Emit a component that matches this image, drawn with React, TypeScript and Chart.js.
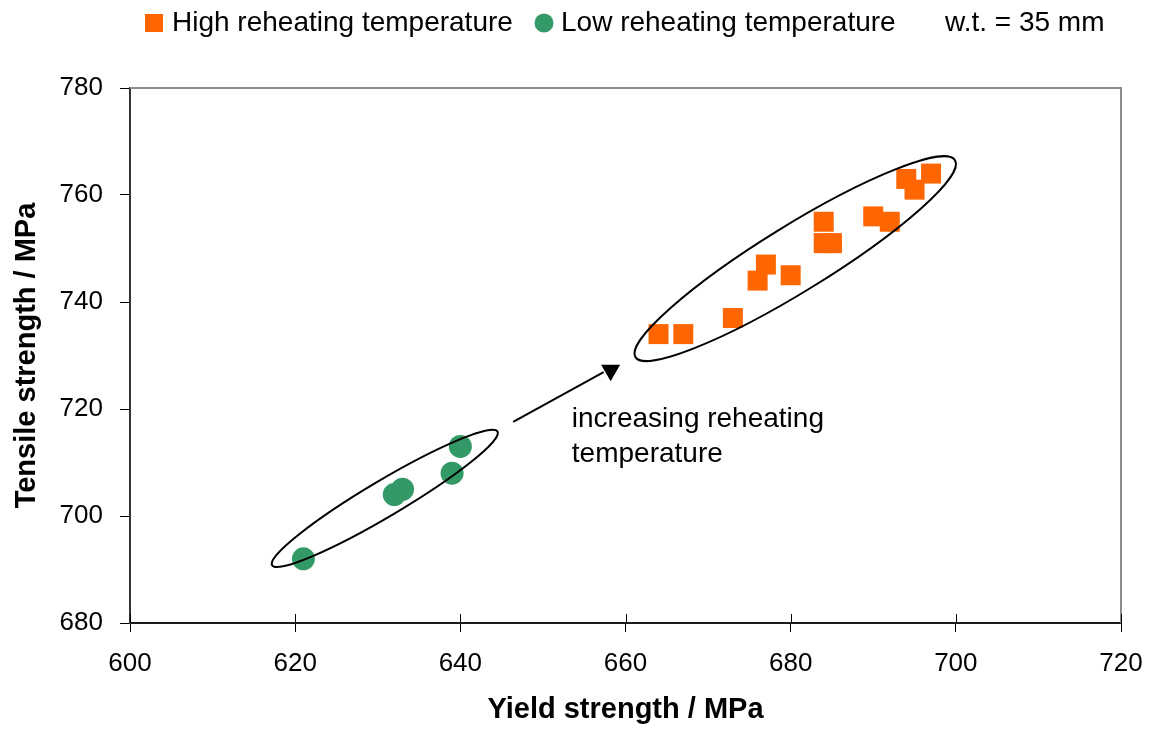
import React, { useEffect, useRef } from "react";
import { Chart, registerables } from "chart.js";

Chart.register(...registerables);

// ---- data ----
const highYield = [664, 667, 673, 676, 677, 680, 684, 684, 685, 690, 692, 694, 695, 697];
const highTensile = [734, 734, 737, 744, 747, 745, 755, 751, 751, 756, 755, 763, 761, 764];
const lowYield = [621, 632, 633, 639, 640];
const lowTensile = [692, 704, 705, 708, 713];
const xTicks = [600, 620, 640, 660, 680, 700, 720];
const yTicks = [680, 700, 720, 740, 760, 780];
const seriesLabels = ["High reheating temperature", "Low reheating temperature"];
const noteText = "w.t. = 35 mm";
const xTitle = "Yield strength / MPa";
const yTitle = "Tensile strength / MPa";
const annotationLines = ["increasing reheating", "temperature"];

// annotation anchors (data units)
const highGroupTips = [[661.2, 729.7], [699.9, 766.5]];
const lowGroupTips = [[617.2, 690.8], [644.5, 715.8]];
const arrowFrom = [646.4, 717.6];
const arrowTip = [658.2, 725.2];
const annotationAnchor = [653.5, 716.6];

const FONT = "'Liberation Sans', Arial, Helvetica, sans-serif";
const ORANGE = "#FF6600";
const GREEN = "#339966";

const decorPlugin = {
  id: "decor",
  afterDraw(chart: any) {
    const { ctx, chartArea, scales } = chart;
    const xs = scales.x;
    const ys = scales.y;
    const px = (v: number) => xs.getPixelForValue(v);
    const py = (v: number) => ys.getPixelForValue(v);
    ctx.save();

    // top & right frame
    ctx.strokeStyle = "#8c8c8c";
    ctx.lineWidth = 2;
    ctx.beginPath();
    ctx.moveTo(chartArea.left, chartArea.top);
    ctx.lineTo(chartArea.right, chartArea.top);
    ctx.lineTo(chartArea.right, chartArea.bottom);
    ctx.stroke();

    // inside part of x ticks
    ctx.strokeStyle = "#000";
    ctx.lineWidth = 1;
    xTicks.forEach((v) => {
      const x = Math.round(px(v)) + 0.5;
      ctx.beginPath();
      ctx.moveTo(x, chartArea.bottom);
      ctx.lineTo(x, chartArea.bottom - 9);
      ctx.stroke();
    });

    // ellipses
    const drawEllipse = (tips: number[][], halfWidth: number) => {
      const x1 = px(tips[0][0]), y1 = py(tips[0][1]);
      const x2 = px(tips[1][0]), y2 = py(tips[1][1]);
      const cx = (x1 + x2) / 2, cy = (y1 + y2) / 2;
      const a = Math.hypot(x2 - x1, y2 - y1) / 2;
      const ang = Math.atan2(y2 - y1, x2 - x1);
      ctx.beginPath();
      ctx.ellipse(cx, cy, a, halfWidth, ang, 0, Math.PI * 2);
      ctx.strokeStyle = "#000";
      ctx.lineWidth = 2;
      ctx.stroke();
    };
    drawEllipse(highGroupTips, 33);
    drawEllipse(lowGroupTips, 18);

    // arrow
    const tx = px(arrowTip[0]), ty = py(arrowTip[1]);
    ctx.beginPath();
    ctx.moveTo(px(arrowFrom[0]), py(arrowFrom[1]));
    ctx.lineTo(tx - 7, ty - 9);
    ctx.strokeStyle = "#000";
    ctx.lineWidth = 2;
    ctx.stroke();
    ctx.beginPath();
    ctx.moveTo(tx, ty);
    ctx.lineTo(tx - 9.5, ty - 16.5);
    ctx.lineTo(tx + 9.5, ty - 16.5);
    ctx.closePath();
    ctx.fillStyle = "#000";
    ctx.fill();

    // annotation text
    ctx.font = `28px ${FONT}`;
    ctx.fillStyle = "#000";
    ctx.textAlign = "left";
    ctx.textBaseline = "alphabetic";
    const ax = px(annotationAnchor[0]);
    const ay = py(annotationAnchor[1]);
    annotationLines.forEach((t, i) => ctx.fillText(t, ax, ay + i * 34.4));

    // legend
    const ly = 15;
    ctx.font = `28px ${FONT}`;
    ctx.textBaseline = "middle";
    ctx.fillStyle = ORANGE;
    ctx.fillRect(137, ly - 9, 18, 18);
    ctx.fillStyle = "#000";
    ctx.fillText(seriesLabels[0], 164, ly);
    ctx.beginPath();
    ctx.arc(536, ly, 9.5, 0, Math.PI * 2);
    ctx.fillStyle = GREEN;
    ctx.fill();
    ctx.fillStyle = "#000";
    ctx.fillText(seriesLabels[1], 553, ly);
    ctx.fillText(noteText, 937, ly);

    ctx.restore();
  },
};

export default function App() {
  const ref = useRef<HTMLCanvasElement | null>(null);

  useEffect(() => {
    document.documentElement.style.overflow = "hidden";
    if (!ref.current) return;
    const tickFont = { family: FONT, size: 26 };
    const titleFont = { family: FONT, size: 29, weight: "bold" as const };
    const chart = new Chart(ref.current, {
      type: "scatter",
      data: {
        datasets: [
          {
            label: seriesLabels[0],
            data: highYield.map((x, i) => ({ x, y: highTensile[i] })),
            pointStyle: "rect",
            pointRadius: 14.14,
            pointHoverRadius: 14.14,
            backgroundColor: ORANGE,
            borderColor: ORANGE,
            borderWidth: 0,
          },
          {
            label: seriesLabels[1],
            data: lowYield.map((x, i) => ({ x, y: lowTensile[i] })),
            pointStyle: "circle",
            pointRadius: 11.5,
            pointHoverRadius: 11.5,
            backgroundColor: GREEN,
            borderColor: GREEN,
            borderWidth: 0,
          },
        ],
      },
      options: {
        animation: false,
        responsive: false,
        devicePixelRatio: 1,
        events: [],
        layout: { padding: { top: 80, right: 25, left: 0, bottom: 0 } },
        plugins: {
          legend: { display: false },
          tooltip: { enabled: false },
        },
        scales: {
          x: {
            type: "linear",
            position: "bottom",
            min: 600,
            max: 720,
            afterBuildTicks: (s: any) => {
              s.ticks = xTicks.map((v) => ({ value: v }));
            },
            afterFit: (s: any) => {
              s.height = 110;
              s.paddingLeft = 0;
              s.paddingRight = 0;
            },
            ticks: { font: tickFont, color: "#000", padding: 16, maxRotation: 0 },
            grid: { drawOnChartArea: false, drawTicks: true, tickLength: 9, color: "#000", lineWidth: 1 },
            border: { color: "#1a1a1a", width: 2 },
            title: { display: true, text: xTitle, font: titleFont, color: "#000", padding: { top: 0, bottom: 6 } },
          },
          y: {
            type: "linear",
            position: "left",
            min: 680,
            max: 780,
            afterBuildTicks: (s: any) => {
              s.ticks = yTicks.map((v) => ({ value: v }));
            },
            afterFit: (s: any) => {
              s.width = 122;
              s.paddingTop = 0;
              s.paddingBottom = 0;
            },
            ticks: { font: tickFont, color: "#000", padding: 17 },
            grid: { drawOnChartArea: false, drawTicks: true, tickLength: 10, color: "#000", lineWidth: 1 },
            border: { color: "#333", width: 2 },
            title: { display: true, text: yTitle, font: titleFont, color: "#000", padding: { top: 2, bottom: 0 } },
          },
        },
      },
      plugins: [decorPlugin],
    });
    return () => chart.destroy();
  }, []);

  return (
    <div style={{ width: 1138, height: 725, marginBottom: -8 }}>
      <canvas ref={ref} width={1138} height={725} style={{ display: "block" }} />
    </div>
  );
}
